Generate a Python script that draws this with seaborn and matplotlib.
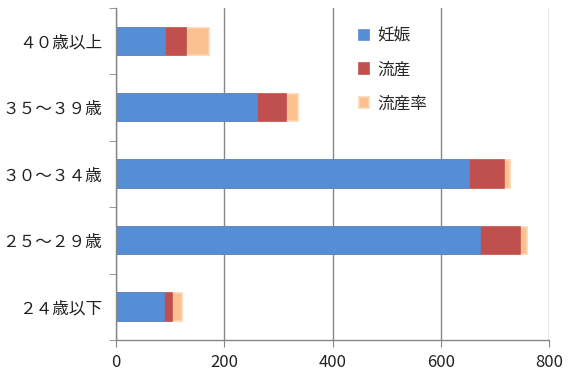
import numpy as np
import pandas as pd
import matplotlib.pyplot as plt
import seaborn as sns

# data
ages = ["４０歳以上", "３５～３９歳", "３０～３４歳", "２５～２９歳", "２４歳以下"]
ninshin = [91, 260, 652, 672, 89]
ryuzan = [39, 54, 64, 75, 15]
ryuzan_ritsu = [42, 22, 11, 13, 17]

df = pd.DataFrame({"age": ages, "妊娠": ninshin, "流産": ryuzan, "流産率": ryuzan_ritsu})
df["c1"] = df["妊娠"]
df["c2"] = df["c1"] + df["流産"]
df["c3"] = df["c2"] + df["流産率"]

sns.set_style("white")
plt.rcParams["font.family"] = ["Noto Sans CJK JP", "DejaVu Sans"]

fig = plt.figure(figsize=(5.86, 3.80), dpi=100)
ax = fig.add_axes([0.198, 0.105, 0.739, 0.874])

gray = "#868686"
# stacked by overlaying cumulative totals
sns.barplot(data=df, x="c3", y="age", orient="h", color="#FAC090", saturation=1,
            width=0.41, edgecolor="#FCD5B5", linewidth=1.2, label="流産率", ax=ax)
sns.barplot(data=df, x="c2", y="age", orient="h", color="#C0504D", saturation=1,
            width=0.41, edgecolor="#C0504D", linewidth=1.2, label="流産", ax=ax)
sns.barplot(data=df, x="c1", y="age", orient="h", color="#558ED5", saturation=1,
            width=0.41, edgecolor="#558ED5", linewidth=1.2, label="妊娠", ax=ax)

ax.set_xlim(0, 800)
ax.set_ylim(4.5, -0.5)
ax.set_xticks([0, 200, 400, 600, 800])
ax.set_xlabel("")
ax.set_ylabel("")
ax.grid(axis="x", color=gray, linewidth=1)
ax.set_axisbelow(True)

for s in ["top", "right"]:
    ax.spines[s].set_visible(False)
for s in ["left", "bottom"]:
    ax.spines[s].set_color(gray)
    ax.spines[s].set_linewidth(1)

ax.set_yticks(np.arange(-0.5, 5, 1), minor=True)
ax.tick_params(axis="y", which="major", length=0, pad=10, labelsize=12, labelcolor="#222222")
ax.tick_params(axis="y", which="minor", length=5, color=gray, direction="out", left=True)
ax.tick_params(axis="x", which="major", length=5, color=gray, direction="out", bottom=True,
               labelsize=12, labelcolor="#222222", pad=5)

handles, labels = ax.get_legend_handles_labels()
order = [labels.index(l) for l in ["妊娠", "流産", "流産率"]]
ax.legend([handles[i] for i in order], [labels[i] for i in order],
          loc="upper left", bbox_to_anchor=(0.527, 0.985), frameon=False,
          handlelength=0.6, handleheight=0.6, handletextpad=0.5,
          labelspacing=1.0, fontsize=12)

fig.savefig("out.png", dpi=100)
